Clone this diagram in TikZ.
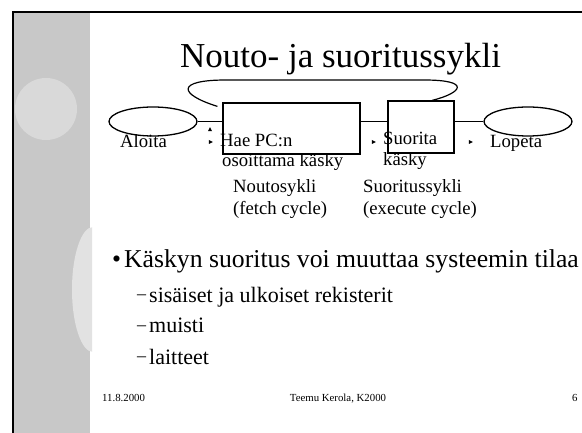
\documentclass[tikz,border=0pt]{standalone}
\usepackage{fontspec}
\setmainfont{Liberation Serif}
\usetikzlibrary{shapes.geometric,positioning}
\definecolor{panelgray}{HTML}{C8C8C8}
\definecolor{blobgray}{HTML}{D9D9D9}
\definecolor{ovalgray}{HTML}{E2E2E2}
\tikzset
{
    endnode/.style  = {ellipse, draw=black, line width=1.3pt, minimum width=88pt, minimum height=29pt, inner sep=0pt},
    cyclebox/.style = {rectangle, draw=black, line width=1.2pt, inner sep=0pt},
    tiptri/.style   = {isosceles triangle, isosceles triangle stretches, fill=black, inner sep=0pt, minimum height=4pt, minimum width=4pt},
    txt/.style      = {inner sep=0pt, anchor=base west, font=\fontsize{18.7}{22}\selectfont},
    bigtxt/.style   = {inner sep=0pt, anchor=base west, font=\fontsize{25.7}{30}\selectfont},
    subtxt/.style   = {inner sep=0pt, anchor=base west, font=\fontsize{22}{26}\selectfont},
    foot/.style     = {inner sep=0pt, anchor=base west, font=\fontsize{10.8}{13}\selectfont}
}
\newcommand{\subdash}{\makebox[12pt][l]{\raisebox{2pt}{\fontsize{18}{20}\selectfont –}}}

\begin{document}
\begin{tikzpicture}[x=1pt, y=-1pt]
\useasboundingbox (0,0) rectangle (582,433);

%% side panel
\fill[panelgray] (13,12) rectangle (90,433);
\fill[blobgray] (46,109) circle (31);
\begin{scope}
\clip (60,200) rectangle (92,380);
\fill[ovalgray] (93,289.5) ellipse (21 and 62.5);
\end{scope}
\draw[line width=1.6pt] (13,433) -- (13,12) -- (582,12);

\node (title) [inner sep=0pt, anchor=base west, font=\fontsize{35}{40}\selectfont] at (180,68) {Nouto- ja suoritussykli};

%% cycle
\node (aloita)	[endnode] 								at (153,121.5)	{};
\node (fetch)	[cyclebox, minimum width=137pt, minimum height=51pt] at (291.5,128.5) {};
\node (exec)	[cyclebox, minimum width=66pt, minimum height=52pt]  at (421,127) {};
\node (lopeta)	[endnode] 								at (528,121.5)	{};

\draw[line width=1.2pt] (aloita.east) -- (aloita.east -| fetch.west);
\draw[line width=1.2pt] (aloita.east -| fetch.east) -- (aloita.east -| exec.west);
\draw[line width=1.2pt] (exec.east |- lopeta.west) -- (lopeta.west);
\draw[line width=1.2pt] ([xshift=-5pt,yshift=-4pt]fetch.north west) .. controls (178,94) and (176,80) .. (226,80)
	-- (424,80) .. controls (472,80) and (462,93) .. ([xshift=11pt]exec.north);

\node (t1)	[tiptri, shape border rotate=90]	at (210,130) {};
\node (t2)	[tiptri]	at (210,142) {};
\node (t3)	[tiptri]	at (373,142) {};
\node (t4)	[tiptri]	at (470,142) {};

\node (aloitatxt)	[txt] at (120,148) {Aloita};
\node (fetchtxt)	[txt] at (220,147) {Hae PC:n};
\node (fetchtxtb)	[txt] at (222,167) {osoittama käsky};
\node (exectxt)		[txt] at (383,145) {Suorita};
\node (exectxtb)	[txt] at (383,166) {käsky};
\node (lopetatxt)	[txt] at (490,148) {Lopeta};
\node (fetchname)	[txt] at (233,193) {Noutosykli};
\node (fetchnameb)	[txt] at (233,215) {(fetch cycle)};
\node (execname)	[txt] at (363,193) {Suoritussykli};
\node (execnameb)	[txt] at (363,215) {(execute cycle)};

%% bullets
\node (b1)	[bigtxt] at (112,268) {\makebox[12pt][l]{\textbullet}Käskyn suoritus voi muuttaa systeemin tilaa};
\node (s1)	[subtxt] at (137,302) {\subdash sisäiset ja ulkoiset rekisterit};
\node (s2)	[subtxt] at (137,333) {\subdash muisti};
\node (s3)	[subtxt] at (137,364) {\subdash laitteet};

%% footer
\node (date)	[foot] at (102,401) {11.8.2000};
\node (author)	[foot, anchor=base] at (338,401) {Teemu Kerola, K2000};
\node (page)	[foot] at (572,401) {6};
\end{tikzpicture}
\end{document}
